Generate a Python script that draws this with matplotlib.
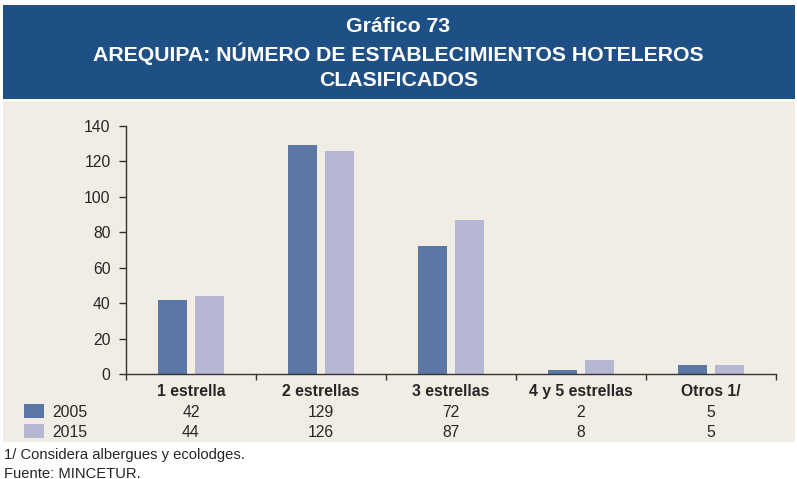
import matplotlib
matplotlib.use("Agg")
import matplotlib.pyplot as plt
from matplotlib.patches import Rectangle
from matplotlib.transforms import blended_transform_factory
import numpy as np

plt.rcParams['font.family'] = ['Liberation Sans', 'DejaVu Sans']

categories = ["1 estrella", "2 estrellas", "3 estrellas", "4 y 5 estrellas", "Otros 1/"]
series_names = ["2005", "2015"]
values_2005 = [42, 129, 72, 2, 5]
values_2015 = [44, 126, 87, 8, 5]
y_ticks = [0, 20, 40, 60, 80, 100, 120, 140]
title_lines = ["Gráfico 73", "AREQUIPA: NÚMERO DE ESTABLECIMIENTOS HOTELEROS", "CLASIFICADOS"]

color_2005 = "#5b77a5"
color_2015 = "#b6b7d2"
banner_color = "#1f5085"
panel_color = "#f1ede5"
text_color = "#262626"

W, H = 797, 479
fig = plt.figure(figsize=(W / 100, H / 100), dpi=100)
fig.patch.set_facecolor("white")

# Title banner and chart panel
fig.add_artist(Rectangle((3 / W, 1 - 99 / H), 792 / W, 94 / H, transform=fig.transFigure,
                         facecolor=banner_color, edgecolor="none", zorder=0))
fig.add_artist(Rectangle((3 / W, 1 - 442 / H), 792 / W, 341 / H, transform=fig.transFigure,
                         facecolor=panel_color, edgecolor="none", zorder=0))
for line, ypx in zip(title_lines, [25, 52, 79]):
    fig.text(0.5, 1 - ypx / H, line, ha="center", va="center_baseline", color="white",
             fontsize=15.3, fontweight="bold")

ax = fig.add_axes([126 / W, 105 / H, 650 / W, 248 / H])
ax.set_facecolor("none")

x = np.arange(len(categories))
width = 0.225
gap = 0.06
ax.bar(x - (width + gap) / 2, values_2005, width, color=color_2005, zorder=2)
ax.bar(x + (width + gap) / 2, values_2015, width, color=color_2015, zorder=2)

ax.set_xlim(-0.5, len(categories) - 0.5)
ax.set_ylim(0, 140)
ax.set_yticks(y_ticks)
ax.set_yticklabels([str(v) for v in y_ticks], fontsize=11.3, color=text_color)
ax.set_xticks(np.arange(len(categories) + 1) - 0.5)
ax.set_xticklabels([])
ax.tick_params(axis="y", direction="out", length=5, width=1, color="#333333", pad=6)
ax.tick_params(axis="x", direction="out", length=4, width=1, color="#333333")
for s in ["top", "right"]:
    ax.spines[s].set_visible(False)
for s in ["left", "bottom"]:
    ax.spines[s].set_color("#333333")
    ax.spines[s].set_linewidth(1)

# Data table below the axis
trans = blended_transform_factory(ax.transData, fig.transFigure)
row_y = [1 - 390 / H, 1 - 411 / H, 1 - 431 / H]
for i, cat in enumerate(categories):
    ax.text(i, row_y[0], cat, transform=trans, ha="center", va="center_baseline",
            fontsize=11.3, fontweight="bold", color=text_color)
    ax.text(i, row_y[1], str(values_2005[i]), transform=trans, ha="center", va="center_baseline",
            fontsize=11.3, color=text_color)
    ax.text(i, row_y[2], str(values_2015[i]), transform=trans, ha="center", va="center_baseline",
            fontsize=11.3, color=text_color)

for yrow, name, col in zip(row_y[1:], series_names, [color_2005, color_2015]):
    fig.add_artist(Rectangle((24 / W, yrow - 7 / H), 20 / W, 14 / H, transform=fig.transFigure,
                             facecolor=col, edgecolor="none"))
    fig.text(52 / W, yrow, name, ha="left", va="center_baseline", fontsize=11.3, color=text_color)

fig.text(4 / W, 1 - 453 / H, "1/ Considera albergues y ecolodges.", ha="left", va="center_baseline",
         fontsize=10.6, color=text_color)
fig.text(4 / W, 1 - 472 / H, "Fuente: MINCETUR.", ha="left", va="center_baseline",
         fontsize=10.6, color=text_color)

fig.savefig("out.png", dpi=100, facecolor=fig.get_facecolor())
